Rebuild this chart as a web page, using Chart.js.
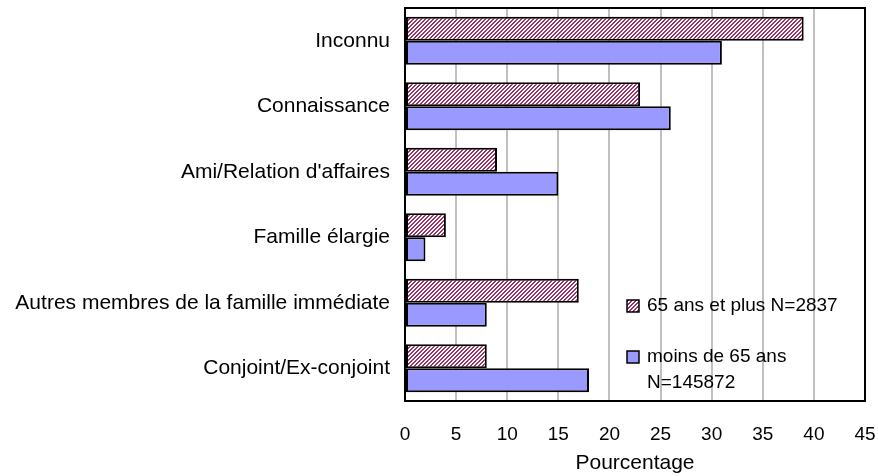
<!DOCTYPE html>
<html>
<head>
<meta charset="utf-8">
<script src="https://cdn.jsdelivr.net/npm/chart.js@4"></script>
<style>
  body { margin: 0; background: #fff; }
</style>
</head>
<body>
<canvas id="chart" width="878" height="476"></canvas>
<script>
const categories = [
  "Inconnu",
  "Connaissance",
  "Ami/Relation d'affaires",
  "Famille élargie",
  "Autres membres de la famille immédiate",
  "Conjoint/Ex-conjoint"
];
const seniors = [39, 23, 9, 4, 17, 8];
const younger = [31, 26, 15, 2, 8, 18];
const seniorLegend = ["65 ans et plus N=2837"];
const youngerLegend = ["moins de 65 ans", "N=145872"];
const xTicks = [0, 5, 10, 15, 20, 25, 30, 35, 40, 45];

const FONT = "'Liberation Sans', Arial, sans-serif";

// hachures pour la série 65+ (motif pixel 4x4)
function makeHatch() {
  const c = document.createElement("canvas");
  c.width = 4; c.height = 4;
  const x = c.getContext("2d");
  x.fillStyle = "#fff";
  x.fillRect(0, 0, 4, 4);
  x.fillStyle = "#993366";
  for (let i = 0; i < 4; i++) {
    x.fillRect(i, 3 - i, 1, 1);
    x.fillRect((i + 1) % 4, 3 - i, 1, 1);
  }
  return x.createPattern(c, "repeat");
}
const hatch = makeHatch();

// pas de marge automatique autour des axes
const noPad = s => { s.paddingTop = 0; s.paddingBottom = 0; s.paddingLeft = 0; s.paddingRight = 0; };

// cadre du graphique + légende dans la zone
const framePlugin = {
  id: "frame",
  afterDraw(chart) {
    const ctx = chart.ctx;
    const a = chart.chartArea;
    ctx.save();
    ctx.strokeStyle = "#000";
    ctx.lineWidth = 2;
    ctx.strokeRect(a.left, a.top, a.right - a.left, a.bottom - a.top);

    const items = [
      {fill: chart.data.datasets[0].backgroundColor, lines: seniorLegend, y: a.top + 298},
      {fill: chart.data.datasets[1].backgroundColor, lines: youngerLegend, y: a.top + 349}
    ];
    const bx = a.left + 222;
    ctx.font = "19px " + FONT;
    ctx.textBaseline = "middle";
    items.forEach(it => {
      ctx.fillStyle = it.fill;
      ctx.fillRect(bx, it.y - 6, 12, 12);
      ctx.strokeStyle = "#000";
      ctx.lineWidth = 1.5;
      ctx.strokeRect(bx, it.y - 6, 12, 12);
      ctx.fillStyle = "#000";
      it.lines.forEach((t, i) => ctx.fillText(t, bx + 20, it.y + i * 26));
    });
    ctx.restore();
  }
};

new Chart(document.getElementById("chart"), {
  type: "bar",
  data: {
    labels: categories,
    datasets: [
      {label: seniorLegend.join(" "), data: seniors, backgroundColor: hatch,
       borderColor: "#000", borderWidth: 2, borderSkipped: false},
      {label: youngerLegend.join(" "), data: younger, backgroundColor: "#9999ff",
       borderColor: "#000", borderWidth: 2, borderSkipped: false}
    ]
  },
  options: {
    indexAxis: "y",
    responsive: false,
    animation: false,
    devicePixelRatio: 1,
    layout: {padding: {top: 8, right: 13, left: 0, bottom: 0}},
    datasets: {bar: {categoryPercentage: 0.73, barPercentage: 1}},
    plugins: {legend: {display: false}, tooltip: {enabled: false}},
    scales: {
      x: {
        min: 0, max: 45,
        afterBuildTicks: s => { s.ticks = xTicks.map(v => ({value: v})); },
        grid: {color: "#c0c0c0", lineWidth: 2, drawTicks: false},
        border: {display: false},
        ticks: {color: "#000", font: {family: FONT, size: 19}, padding: 22, maxRotation: 0},
        title: {display: true, text: "Pourcentage", color: "#000",
                font: {family: FONT, size: 21}, padding: {top: 4, bottom: 0}},
        afterFit: s => { s.height = 75; noPad(s); }
      },
      y: {
        grid: {display: false, drawTicks: false},
        border: {display: false},
        ticks: {color: "#000", font: {family: FONT, size: 21}, padding: 15, crossAlign: "near"},
        afterFit: s => { s.width = 405; noPad(s); }
      }
    }
  },
  plugins: [framePlugin]
});
</script>
</body>
</html>
